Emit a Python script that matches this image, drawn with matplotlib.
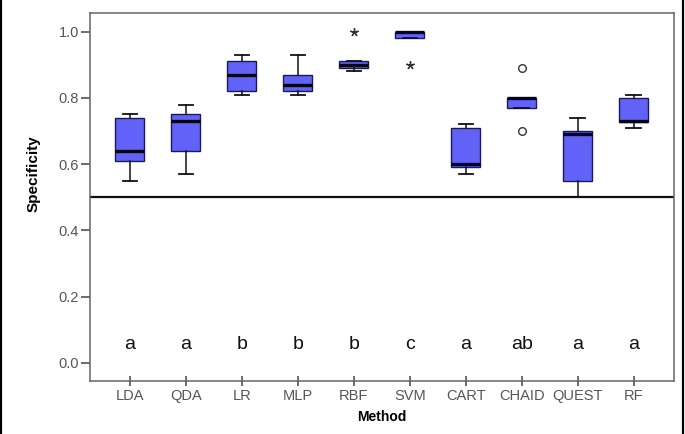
import matplotlib
matplotlib.use("Agg")
import matplotlib.pyplot as plt
from matplotlib.lines import Line2D

plt.rcParams['font.family'] = ['Liberation Sans', 'DejaVu Sans']

methods = ["LDA", "QDA", "LR", "MLP", "RBF", "SVM", "CART", "CHAID", "QUEST", "RF"]
whislo = [0.55, 0.57, 0.81, 0.81, 0.88, 0.98, 0.57, 0.77, 0.50, 0.71]
q1 = [0.61, 0.64, 0.82, 0.82, 0.89, 0.98, 0.59, 0.77, 0.55, 0.727]
med = [0.64, 0.73, 0.87, 0.84, 0.90, 1.00, 0.60, 0.80, 0.69, 0.73]
q3 = [0.74, 0.75, 0.91, 0.87, 0.91, 1.00, 0.71, 0.80, 0.70, 0.80]
whishi = [0.75, 0.78, 0.93, 0.93, 0.91, 1.00, 0.72, 0.80, 0.74, 0.81]
outliers = [[], [], [], [], [], [], [], [0.89, 0.70], [], []]
extremes = [[], [], [], [], [1.00], [0.90], [], [], [], []]
groups = ["a", "a", "b", "b", "b", "c", "a", "ab", "a", "a"]
reference_line = 0.5
yticks = [0.0, 0.2, 0.4, 0.6, 0.8, 1.0]

fig = plt.figure(figsize=(6.85, 4.34), dpi=100)
ax = fig.add_axes([0.1308, 0.122, 0.984 - 0.1308, 0.969 - 0.122])

stats = []
for i in range(len(methods)):
    stats.append(dict(whislo=whislo[i], q1=q1[i], med=med[i], q3=q3[i],
                      whishi=whishi[i], fliers=outliers[i], label=methods[i]))

pos = list(range(len(methods)))
ax.bxp(stats, positions=pos, widths=0.52, patch_artist=True, capwidths=0.26,
       boxprops=dict(facecolor='#6262f8', edgecolor='#1c1c55', linewidth=1.0),
       medianprops=dict(color='#05051a', linewidth=2.4, solid_capstyle='butt'),
       whiskerprops=dict(color='#111111', linewidth=1.1),
       capprops=dict(color='#111111', linewidth=1.3),
       flierprops=dict(marker='o', markerfacecolor='none', markeredgecolor='#444444',
                       markersize=5.5, markeredgewidth=1.1),
       zorder=3)

for i, ex in enumerate(extremes):
    if ex:
        ax.plot([pos[i]] * len(ex), ex, linestyle='none', marker=(5, 2, 0),
                markersize=6, markeredgewidth=1.0, color='#333333', zorder=4)

ax.axhline(reference_line, color='#111111', linewidth=1.6, zorder=2)

for i, g in enumerate(groups):
    ax.text(pos[i], 0.043, g, ha='center', va='baseline', fontsize=14, color='#111111')

ax.set_xlim(-0.72, 9.72)
ax.set_ylim(-0.055, 1.055)
ax.set_yticks(yticks)
ax.set_yticklabels([f"{v:.1f}" for v in yticks])
ax.set_xticks(pos)
ax.set_xticklabels(methods)

for s in ax.spines.values():
    s.set_color('#666666')
    s.set_linewidth(1.1)

ax.tick_params(axis='y', direction='out', length=6.5, width=1.1, color='#444444',
               labelsize=10.5, labelcolor='#555555', pad=1)
ax.tick_params(axis='x', direction='inout', length=7, width=1.1, color='#444444',
               labelsize=10.5, labelcolor='#555555', pad=2)

ax.set_ylabel("Specificity", fontsize=11, fontweight='bold')
ax.yaxis.set_label_coords(-0.084, 0.565)
ax.set_xlabel("Method", fontsize=10, fontweight='bold', labelpad=5)

fig.add_artist(Line2D([0.002, 0.002], [0, 1], transform=fig.transFigure, color='black', linewidth=1.6))
fig.add_artist(Line2D([0.997, 0.997], [0, 1], transform=fig.transFigure, color='black', linewidth=1.6))

fig.savefig("out.png", dpi=100)
